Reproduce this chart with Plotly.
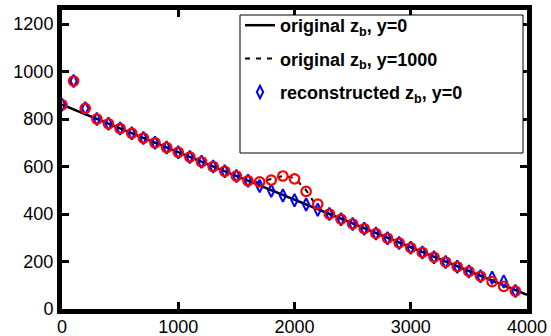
import plotly.graph_objects as go

# ---- data ----
x_line = [0, 100, 200, 300, 400, 500, 600, 700, 800, 900, 1000, 1100, 1200, 1300, 1400,
          1500, 1600, 1700, 1800, 1900, 2000, 2100, 2200, 2300, 2400, 2500, 2600, 2700,
          2800, 2900, 3000, 3100, 3200, 3300, 3400, 3500, 3600, 3700, 3800, 3900, 4000]
z_orig_y0 = [860, 840, 820, 800, 780, 760, 740, 720, 700, 680, 660, 640, 620, 600, 580,
             560, 540, 520, 500, 480, 460, 440, 420, 400, 380, 360, 340, 320, 300, 280,
             260, 240, 220, 200, 180, 160, 140, 120, 100, 80, 60]
z_orig_y1000 = [860, 840, 820, 800, 780, 760, 740, 720, 700, 680, 660, 640, 620, 600, 580,
                560, 540, 532, 548, 560, 552, 500, 425, 400, 380, 360, 340, 320, 300, 280,
                260, 240, 220, 200, 180, 160, 140, 120, 100, 80, 60]

x_pts = [0, 100, 200, 300, 400, 500, 600, 700, 800, 900, 1000, 1100, 1200, 1300, 1400,
         1500, 1600, 1700, 1800, 1900, 2000, 2100, 2200, 2300, 2400, 2500, 2600, 2700,
         2800, 2900, 3000, 3100, 3200, 3300, 3400, 3500, 3600, 3700, 3800, 3900]
z_rec_y0 = [860, 960, 845, 800, 780, 760, 740, 720, 700, 680, 660, 640, 620, 600, 580,
            560, 540, 518, 498, 478, 458, 440, 418, 400, 378, 358, 338, 318, 298, 278,
            258, 238, 218, 198, 178, 158, 138, 132, 116, 76]
z_rec_y1000 = [860, 960, 845, 800, 780, 760, 740, 720, 700, 680, 660, 640, 620, 600, 580,
               560, 540, 535, 543, 560, 548, 495, 442, 400, 378, 358, 338, 318, 298, 278,
               258, 238, 218, 198, 178, 158, 138, 115, 95, 75]

x_ticks = [0, 1000, 2000, 3000, 4000]
y_ticks = [0, 200, 400, 600, 800, 1000, 1200]

FONT = "Liberation Sans, Arial, Helvetica, sans-serif"

# layout geometry (pixels)
W, H = 551, 336
ML, MR, MT, MB = 62, 24, 10, 27
PW, PH = W - ML - MR, H - MT - MB


def px_x(p):
    return (p - ML) / PW


def px_y(p):
    return (H - MB - p) / PH


fig = go.Figure()
fig.add_trace(go.Scatter(x=x_line, y=z_orig_y0, mode="lines",
                         line=dict(color="black", width=2.5), legendgroup="a",
                         name="original z<sub>b</sub>, y=0"))
fig.add_trace(go.Scatter(x=x_line, y=z_orig_y1000, mode="lines",
                         line=dict(color="black", width=2, dash="5px,6px"), legendgroup="b",
                         name="original z<sub>b</sub>, y=1000"))
fig.add_trace(go.Scatter(x=x_pts, y=z_rec_y0, mode="markers", legendgroup="c",
                         marker=dict(symbol="diamond-tall-open", size=9, color="#0000ff",
                                     line=dict(width=2, color="#0000ff")),
                         name="reconstructed z<sub>b</sub>, y=0"))
fig.add_trace(go.Scatter(x=x_pts, y=z_rec_y1000, mode="markers", legendgroup="e",
                         marker=dict(symbol="circle-open", size=9.5, color="#ff0000",
                                     line=dict(width=2.2, color="#ff0000")),
                         name="reconstructed z<sub>b</sub>, y=1000", showlegend=False))

# legend frame
fig.add_shape(type="rect", xref="paper", yref="paper",
              x0=px_x(240), x1=px_x(523), y0=px_y(153), y1=px_y(15),
              line=dict(color="black", width=1), fillcolor="white", layer="above")

fig.update_layout(
    width=W, height=H,
    margin=dict(l=ML, r=MR, t=MT, b=MB, autoexpand=False),
    paper_bgcolor="white", plot_bgcolor="white",
    font=dict(family=FONT, size=18, color="black"),
    showlegend=True,
    legend=dict(x=px_x(240), y=px_y(7), xanchor="left", yanchor="top",
                bgcolor="rgba(0,0,0,0)", borderwidth=0,
                font=dict(family=FONT, size=18, color="black", weight="bold"),
                itemwidth=30, tracegroupgap=7),
    xaxis=dict(range=[0, 4000], tickvals=x_ticks, ticktext=[str(v) for v in x_ticks],
               showgrid=False, zeroline=False, showline=True, linecolor="black",
               linewidth=5, mirror="ticks", ticks="inside", ticklen=7, tickwidth=3,
               tickcolor="black", tickfont=dict(size=18), automargin=False,
               ticklabelstandoff=-3),
    yaxis=dict(range=[0, 1259], tickvals=y_ticks, ticktext=[str(v) for v in y_ticks],
               showgrid=False, zeroline=False, showline=True, linecolor="black",
               linewidth=5, mirror="ticks", ticks="inside", ticklen=7, tickwidth=3,
               tickcolor="black", tickfont=dict(size=18), automargin=False),
)

fig.write_html("out.html")
